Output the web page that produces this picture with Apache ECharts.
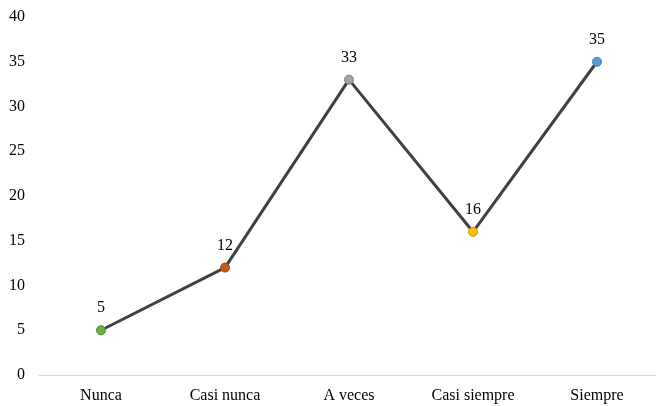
<!DOCTYPE html>
<html><head><meta charset="utf-8">
<script src="https://cdn.jsdelivr.net/npm/echarts@6/dist/echarts.min.js"></script>
<style>html,body{margin:0;padding:0;background:#fff}#c{width:656px;height:406px}</style>
</head><body><div id="c"></div>
<script>
const categories = ["Nunca", "Casi nunca", "A veces", "Casi siempre", "Siempre"];
const values = [5, 12, 33, 16, 35];
const pointColors = ["#70ad47", "#c55a11", "#a5a5a5", "#ffc000", "#5b9bd5"];
const pointBorders = ["#4f8a2e", "#9c440a", "#7f7f7f", "#c79400", "#3f7fbf"];
const yTicks = { min: 0, max: 40, interval: 5 };

const font = '"Liberation Serif", "Times New Roman", serif';
const chart = echarts.init(document.getElementById('c'), null, {renderer: 'canvas'});
chart.setOption({
  animation: false,
  backgroundColor: '#fff',
  grid: { left: 39, right: -3, top: 17, bottom: 31, containLabel: false, outerBoundsMode: 'none' },
  xAxis: {
    type: 'category', data: categories, boundaryGap: true,
    axisLine: { show: true, lineStyle: { color: '#d9d9d9', width: 1 } },
    axisTick: { show: false },
    axisLabel: { color: '#000', fontFamily: font, fontSize: 16, margin: 13 }
  },
  yAxis: {
    type: 'value', min: yTicks.min, max: yTicks.max, interval: yTicks.interval,
    axisLine: { show: false }, axisTick: { show: false },
    splitLine: { show: false },
    axisLabel: { color: '#000', fontFamily: font, fontSize: 16, margin: 14 }
  },
  series: [{
    type: 'line', data: values.map((v, i) => ({
      value: v,
      itemStyle: { color: pointColors[i], borderColor: pointBorders[i], borderWidth: 1 }
    })),
    symbol: 'circle', symbolSize: 9,
    lineStyle: { color: '#404040', width: 3 },
    label: { show: true, position: 'top', distance: 9, color: '#000', fontFamily: font, fontSize: 16 },
    z: 3
  }]
});
</script></body></html>
